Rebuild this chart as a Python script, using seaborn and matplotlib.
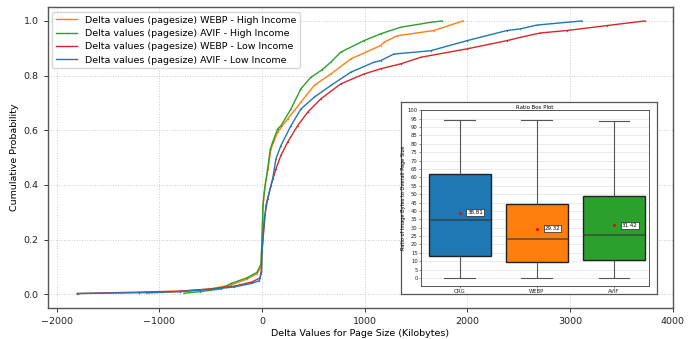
import numpy as np
import pandas as pd
import matplotlib
matplotlib.use("Agg")
import matplotlib.pyplot as plt
import seaborn as sns

# ---------------- data: cumulative distributions ----------------
series_names = [
    "Delta values (pagesize) WEBP - High Income",
    "Delta values (pagesize) AVIF - High Income",
    "Delta values (pagesize) WEBP - Low Income",
    "Delta values (pagesize) AVIF - Low Income",
]
series_colors = ["#ff7f0e", "#2ca02c", "#d62728", "#1f77b4"]

webp_high_x = [-1126, -800, -500, -300, -150, -50, -10, 0, 10, 30, 60, 87, 152, 250, 379,
               508, 670, 864, 1155, 1188, 1317, 1673, 1958]
webp_high_y = [0.004, 0.01, 0.02, 0.035, 0.055, 0.075, 0.10, 0.20, 0.32, 0.40, 0.46, 0.532,
               0.593, 0.642, 0.703, 0.764, 0.806, 0.861, 0.91, 0.922, 0.946, 0.965, 1.0]

avif_high_x = [-760, -600, -400, -300, -150, -50, -10, 0, 10, 22, 55, 80, 104, 152, 184, 282,
               379, 476, 580, 670, 767, 993, 1155, 1350, 1641, 1754]
avif_high_y = [0.004, 0.01, 0.02, 0.04, 0.06, 0.08, 0.11, 0.20, 0.33, 0.374, 0.46, 0.53,
               0.557, 0.605, 0.617, 0.678, 0.752, 0.794, 0.82, 0.849, 0.886, 0.928, 0.953,
               0.977, 0.995, 1.0]

webp_low_x = [-1800, -1200, -800, -500, -270, -100, -20, -5, 0, 39, 87, 136, 184, 250, 347,
              444, 573, 767, 993, 1155, 1350, 1544, 1997, 2385, 2515, 2709, 2968, 3356, 3728]
webp_low_y = [0.003, 0.008, 0.012, 0.02, 0.03, 0.045, 0.06, 0.09, 0.16, 0.325, 0.398, 0.459,
              0.508, 0.557, 0.617, 0.666, 0.715, 0.77, 0.806, 0.825, 0.843, 0.867, 0.898,
              0.928, 0.94, 0.956, 0.965, 0.983, 1.0]

avif_low_x = [-1796, -1200, -800, -500, -270, -100, -26, -5, 0, 22, 55, 104, 136, 184, 282,
              379, 508, 670, 864, 1090, 1155, 1284, 1641, 1997, 2385, 2515, 2677, 3113]
avif_low_y = [0.003, 0.006, 0.01, 0.018, 0.027, 0.04, 0.05, 0.08, 0.15, 0.277, 0.35, 0.423,
              0.496, 0.544, 0.617, 0.678, 0.721, 0.764, 0.8125, 0.849, 0.855, 0.879, 0.891,
              0.928, 0.965, 0.971, 0.985, 1.0]

# ---------------- data: box plot (five-number summaries) ----------------
box_categories = ["ORG", "WEBP", "AVIF"]
box_colors = ["#1f77b4", "#ff7f0e", "#2ca02c"]
org_summary = [0.0, 13.3, 34.4, 62.2, 94.1]
webp_summary = [0.0, 9.7, 23.1, 44.3, 94.1]
avif_summary = [0.0, 10.5, 25.4, 48.6, 93.5]
mean_values = [38.81, 29.32, 31.42]

# ---------------- build tables ----------------
xs = [webp_high_x, avif_high_x, webp_low_x, avif_low_x]
ys = [webp_high_y, avif_high_y, webp_low_y, avif_low_y]
cdf_df = pd.concat(
    [pd.DataFrame({"delta": x, "cdf": y, "series": name})
     for x, y, name in zip(xs, ys, series_names)],
    ignore_index=True,
)
box_df = pd.concat(
    [pd.DataFrame({"format": cat, "ratio": vals})
     for cat, vals in zip(box_categories, [org_summary, webp_summary, avif_summary])],
    ignore_index=True,
)

# ---------------- figure ----------------
FS = 6.8
fig = plt.figure(figsize=(6.95, 3.39), dpi=100)
ax = fig.add_axes([0.0686, 0.0914, 0.8994, 0.8871])

sns.lineplot(data=cdf_df, x="delta", y="cdf", hue="series", hue_order=series_names,
             palette=dict(zip(series_names, series_colors)), estimator=None, sort=False,
             linewidth=1.0, marker=".", markersize=2, markeredgewidth=0, ax=ax)

ax.set_xlim(-2087, 4000)
ax.set_ylim(-0.05, 1.05)
ax.set_xticks(np.arange(-2000, 4001, 1000))
ax.set_yticks(np.arange(0, 1.01, 0.2))
ax.grid(True, linestyle=":", color="#cccccc", linewidth=0.7)
ax.set_axisbelow(True)
ax.tick_params(labelsize=FS, length=3, width=0.7, colors="#333333", labelcolor="#222222")
for s in ax.spines.values():
    s.set_color("#555555")
    s.set_linewidth(1.0)
ax.set_xlabel("Delta Values for Page Size (Kilobytes)", fontsize=FS, labelpad=2)
ax.set_ylabel("Cumulative Probability", fontsize=FS, labelpad=3)
ax.legend(loc="upper left", fontsize=FS, framealpha=0.8, borderpad=0.4,
          labelspacing=0.45, handlelength=2.2)

# ---------------- inset ----------------
ax_out = fig.add_axes([0.5765, 0.1327, 0.3688, 0.5673])
ax_out.set_facecolor("white")
ax_out.set_xticks([])
ax_out.set_yticks([])
for s in ax_out.spines.values():
    s.set_color("#555555")
    s.set_linewidth(0.9)

ax_in = fig.add_axes([0.6060, 0.1569, 0.3275, 0.5177])
sns.boxplot(data=box_df, x="format", y="ratio", hue="format", order=box_categories,
            hue_order=box_categories, palette=dict(zip(box_categories, box_colors)),
            legend=False, saturation=1, width=0.8, showfliers=False, linewidth=0.8,
            linecolor="#555555", ax=ax_in,
            boxprops=dict(edgecolor="#222222", linewidth=1.0),
            medianprops=dict(color="#333333", alpha=0.75, linewidth=1.1))
ax_in.scatter(range(len(box_categories)), mean_values, color="red", s=5, zorder=5,
              linewidths=0)
for i, m in enumerate(mean_values):
    ax_in.text(i + 0.1, m, f"{m:.2f}", fontsize=4, ha="left", va="center", zorder=6,
               bbox=dict(facecolor="white", edgecolor="#222222", linewidth=0.5, pad=0.8))

ax_in.set_xlim(-0.5, 2.45)
ax_in.set_ylim(-4.7, 100)
ax_in.set_yticks(np.arange(0, 101, 5))
ax_in.grid(True, axis="y", color="#e3e3e3", linewidth=0.5)
ax_in.set_axisbelow(True)
ax_in.tick_params(labelsize=3.8, length=1.5, width=0.4, pad=1, colors="#333333",
                  labelcolor="#222222")
ax_in.set_xlabel("")
ax_in.set_ylabel("Ratio of Image Bytes to Overall Page Size", fontsize=3.6, labelpad=1)
ax_in.set_title("Ratio Box Plot", fontsize=3.9, pad=1.2)
for s in ax_in.spines.values():
    s.set_color("#555555")
    s.set_linewidth(0.7)

fig.savefig("out.png", dpi=100)
